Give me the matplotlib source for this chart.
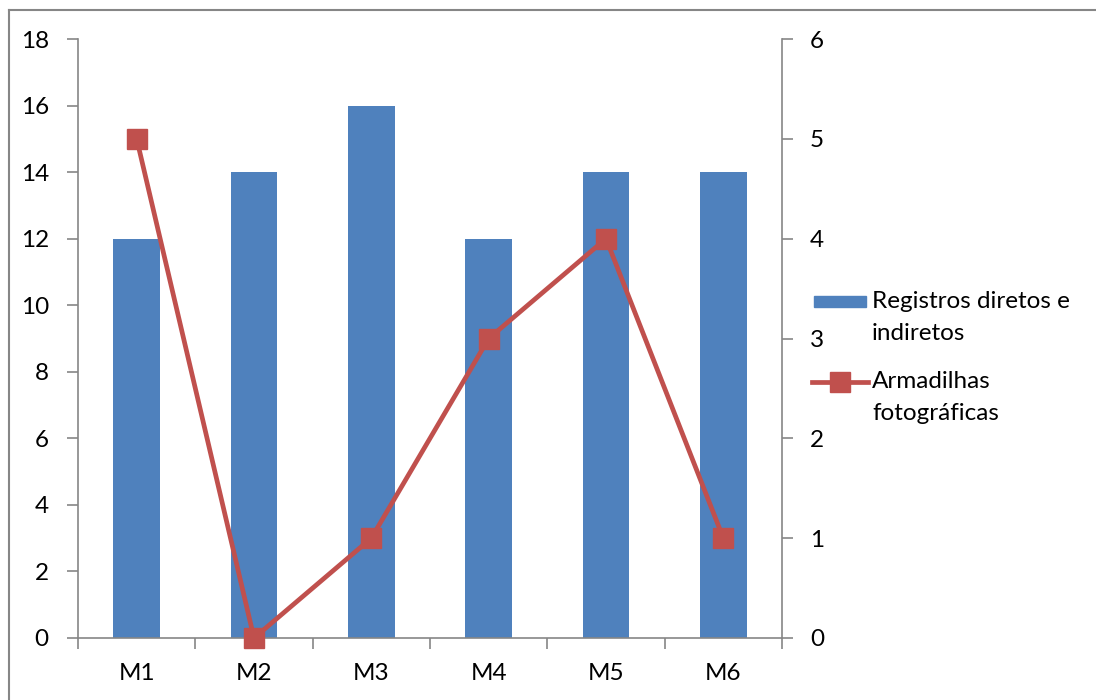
import matplotlib.pyplot as plt
from matplotlib.lines import Line2D
from matplotlib.patches import Rectangle

plt.rcParams["font.family"] = ["Lato", "DejaVu Sans"]

categories = ["M1", "M2", "M3", "M4", "M5", "M6"]
registros = [12, 14, 16, 12, 14, 14]
armadilhas = [5, 0, 1, 3, 4, 1]
series_names = ["Registros diretos e\nindiretos", "Armadilhas\nfotográficas"]

BLUE = "#4F81BD"
RED = "#C0504D"
GRAY = "#868686"
FS = 17.5
W, H = 1096, 700


def fx(px):
    return px / W


def fy(py):
    return 1 - py / H


fig = plt.figure(figsize=(W / 100, H / 100), dpi=100)
ax = fig.add_axes([fx(78), 62 / H, 704 / W, 599 / H])
ax2 = ax.twinx()

x = list(range(len(categories)))
ax.bar(x, registros, width=0.4, color=BLUE, zorder=2)
ax2.plot(x, armadilhas, color=RED, lw=3.4, marker="s", markersize=14,
         markerfacecolor=RED, markeredgecolor=RED, zorder=3, clip_on=False)

ax.set_xlim(-0.5, len(categories) - 0.5)
ax.set_ylim(0, 18)
ax.set_yticks(range(0, 19, 2))
ax2.set_ylim(0, 6)
ax2.set_yticks(range(0, 7))

# category ticks sit between the groups, labels at the centres
ax.set_xticks([i - 0.5 for i in range(len(categories) + 1)])
ax.set_xticklabels([])
ax.set_xticks(x, minor=True)
ax.set_xticklabels(categories, minor=True, fontsize=FS)
ax.tick_params(axis="x", which="minor", length=0, pad=18)
ax.tick_params(axis="x", which="major", length=8, width=1.2, color=GRAY,
               direction="out")

ax.tick_params(axis="y", length=8, width=1.2, color=GRAY, labelsize=FS, pad=13)
ax2.tick_params(axis="y", length=8, width=1.2, color=GRAY, labelsize=FS, pad=12)

for a in (ax, ax2):
    a.spines["top"].set_visible(False)
    for side in ("left", "right", "bottom"):
        a.spines[side].set_color(GRAY)
        a.spines[side].set_linewidth(1.2)
ax2.spines["left"].set_visible(False)
ax2.spines["bottom"].set_visible(False)
ax.spines["right"].set_visible(False)

# legend, keys aligned with the first line of each label
fig.add_artist(Rectangle((fx(814), fy(307)), 52 / W, 11 / H,
                         transform=fig.transFigure, color=BLUE))
fig.add_artist(Line2D([fx(812), fx(868)], [fy(382), fy(382)],
                      transform=fig.transFigure, color=RED, lw=3.4))
fig.add_artist(Line2D([fx(840)], [fy(382)], transform=fig.transFigure,
                      marker="s", markersize=14, color=RED, lw=0))
for label, top in zip(series_names, [291, 371]):
    fig.text(fx(872), fy(top), label, fontsize=FS, va="top", ha="left",
             linespacing=1.62)

# chart area border
fig.add_artist(Line2D([fx(8.5), fx(8.5)], [0, fy(9.5)],
                      transform=fig.transFigure, color=GRAY, lw=1.5))
fig.add_artist(Line2D([fx(8.5), 1], [fy(9.5), fy(9.5)],
                      transform=fig.transFigure, color=GRAY, lw=1.5))

fig.savefig("out.png", dpi=100, facecolor="white")
